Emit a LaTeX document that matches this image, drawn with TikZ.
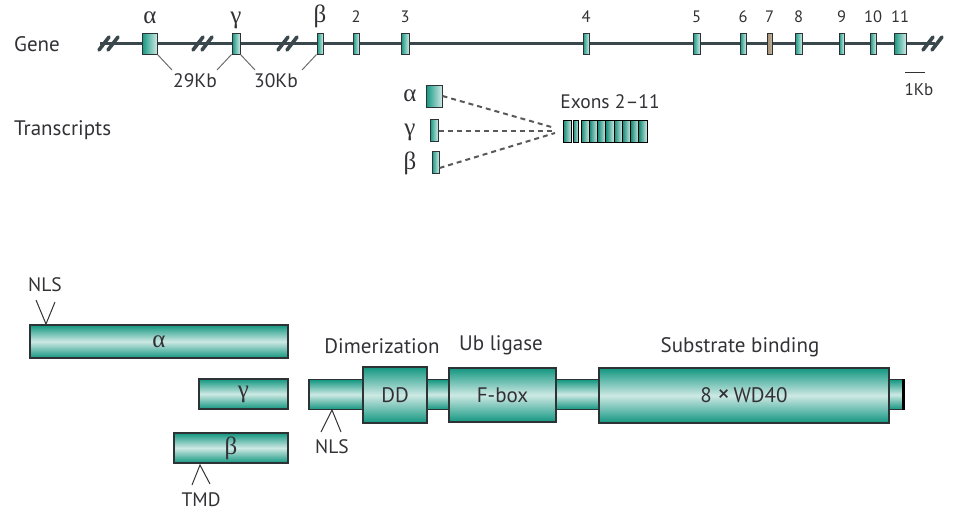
\documentclass[tikz,border=0pt]{standalone}
\usepackage{fontspec}
\setmainfont{PT Sans}
\newfontfamily\grk{Liberation Serif}
\definecolor{tealD}{RGB}{18,150,128}
\definecolor{tealL}{RGB}{205,233,228}
\definecolor{tanE}{RGB}{196,178,148}
\definecolor{edge}{RGB}{45,50,52}
\definecolor{gline}{RGB}{58,72,78}
\definecolor{txt}{RGB}{50,50,54}
\definecolor{conn}{RGB}{110,110,110}
\tikzset{
  lbl/.style={font=\fontsize{21}{21}\selectfont, text=txt, inner sep=0},
  mid/.style={font=\fontsize{19.5}{20}\selectfont, text=txt, inner sep=0},
  small/.style={font=\fontsize{16.5}{17}\selectfont, text=txt, inner sep=0},
  greek/.style={font=\grk\fontsize{25}{25}\selectfont, text=txt, inner sep=0},
  exon/.style={draw=edge, line width=1pt, left color=tealD, right color=tealL,
               inner sep=0, minimum height=21},
  texon/.style={exon, minimum height=22},
  subexon/.style={draw=black, line width=0.9pt, left color=tealD!90!black, right color=tealL,
               inner sep=0, minimum height=22},
  prot/.style={draw=edge, line width=1.3pt, top color=tealD, bottom color=tealD,
               middle color=tealL, inner sep=0, font=\fontsize{21}{21}\selectfont, text=txt},
  geneline/.style={draw=gline, line width=3pt},
  brk/.style={draw=gline, line width=3.6pt, line cap=round},
  conline/.style={draw=conn, line width=1pt},
  splice/.style={draw=gray!70!black, line width=2pt, dash pattern=on 5pt off 4pt},
  tick/.style={draw=txt, line width=1pt},
}
\begin{document}
\begin{tikzpicture}[x=1pt,y=-1pt]
\useasboundingbox (0,0) rectangle (957,514);

% ---------------- gene ----------------
\node[lbl, anchor=west] (gene) at (14,44) {Gene};
\coordinate (gs) at (100,43.5);
\coordinate (ge) at (935,43.5);
\draw[geneline] (gs) -- (ge);
% breaks in the gene line
\foreach \x in {104,113, 198,207, 283,292, 928,937}
  \draw[brk] (\x-5,50) -- (\x+5,37);

% exons
\node[exon, minimum width=15] (ea) at (149.5,43.5) {};
\node[exon, minimum width=8]  (eg) at (236,43.5) {};
\node[exon, minimum width=6]  (eb) at (320,43.5) {};
\node[exon, minimum width=6]  (e2) at (356,43.5) {};
\node[exon, minimum width=8]  (e3) at (405,43.5) {};
\node[exon, minimum width=6]  (e4) at (586,43.5) {};
\node[exon, minimum width=7]  (e5) at (696.5,43.5) {};
\node[exon, minimum width=6]  (e6) at (743,43.5) {};
\node[exon, minimum width=5, left color=tanE!80!black, right color=tanE] (e7) at (769.5,43.5) {};
\node[exon, minimum width=7]  (e8) at (798.5,43.5) {};
\node[exon, minimum width=5]  (e9) at (841.5,43.5) {};
\node[exon, minimum width=6]  (e10) at (873,43.5) {};
\node[exon, minimum width=12] (e11) at (900,43.5) {};

% exon labels
\node[greek] at (150,18) {α};
\node[greek] at (236,20) {γ};
\node[greek] at (320,16) {β};
\foreach \n/\x in {2/356,3/405,4/586,5/696.5,6/743,7/769.5,8/798.5,9/841.5,10/873,11/900}
  \node[small] at (\x,17) {\n};

% intron sizes
\node[mid] (k29) at (195,81) {29Kb};
\node[mid] (k30) at (276,81) {30Kb};
\coordinate (k29l) at (172,70);
\coordinate (k29r) at (217,70);
\coordinate (k30l) at (255,70);
\coordinate (k30r) at (302,70);
\draw[conline] (ea.south east) -- (k29l);
\draw[conline] (eg.south west) -- (k29r);
\draw[conline] (eg.south east) -- (k30l);
\draw[conline] (eb.south west) -- (k30r);

% scale bar
\coordinate (sb1) at (905,72);
\coordinate (sb2) at (925,72);
\draw[tick] (sb1) -- (sb2);
\node[small, font=\fontsize{17}{17}\selectfont] (kb) at (919,90) {1Kb};

% ---------------- transcripts ----------------
\node[lbl, anchor=west] (tr) at (14,130) {Transcripts};
\node[texon, minimum width=16] (ta) at (434,96) {};
\node[texon, minimum width=8]  (tg) at (434,130.5) {};
\node[texon, minimum width=7]  (tb) at (435.5,162) {};
\node[greek] at (410,96) {α};
\node[greek] at (410,132) {γ};
\node[greek] at (410,163) {β};

% exons 2-11 block
\node[subexon, minimum width=8.5] (x2) at (567.25,131) {};
\node[subexon, minimum width=5.5] (x3) at (575.75,131) {};
\foreach \i in {0,...,7}
  \node[subexon, minimum width=8.25] (x\i b) at (585.125+\i*8.25,131) {};
\node[mid] (exl) at (610,102) {Exons 2--11};

\coordinate (ca) at (555,128);
\coordinate (cg) at (555,130.5);
\coordinate (cb) at (555,133);
\draw[splice] (ta.east) -- (ca);
\draw[splice] (tg.east) -- (cg);
\draw[splice] ([yshift=-6]tb.east) -- (cb);

% ---------------- proteins ----------------
\node[prot, minimum width=258, minimum height=33] (pa) at (159,341.5) {\grk\fontsize{25}{25}\selectfont α};
\node[prot, minimum width=89,  minimum height=30] (pg) at (243.5,394) {\grk\fontsize{25}{25}\selectfont γ};
\node[prot, minimum width=114, minimum height=30] (pb) at (231,448) {\grk\fontsize{25}{25}\selectfont β};

% NLS on alpha
\node[mid] (nls1) at (45,285) {NLS};
\coordinate (n1) at (46,324);
\coordinate (n1l) at (36,300);
\coordinate (n1r) at (55,302);
\draw[tick] (n1l) -- (n1) -- (n1r);

% TMD on beta
\node[mid] (tmd) at (201,500) {TMD};
\coordinate (t1) at (200,465);
\coordinate (t1l) at (192,485);
\coordinate (t1r) at (210,484);
\draw[tick] (t1l) -- (t1) -- (t1r);

% full-length protein backbone
\node[prot, minimum width=594, minimum height=30] (bb) at (606,394.5) {};
\draw[draw=black, line width=2.6pt] (bb.north east) -- (bb.south east);
\node[prot, minimum width=64,  minimum height=56] (dd) at (395,395) {DD};
\node[prot, minimum width=107, minimum height=54] (fb) at (502.5,395) {F-box};
\node[prot, minimum width=290, minimum height=55] (wd) at (744,395.5) {8 {\fontsize{25}{25}\selectfont ×}\,WD40};

% domain titles
\node[lbl] (dim) at (382,346) {Dimerization};
\node[lbl] (ub)  at (501,345) {Ub ligase};
\node[lbl] (sub) at (740,347) {Substrate binding};

% NLS on backbone
\node[mid] (nls2) at (332,447) {NLS};
\coordinate (n2) at (332,410);
\coordinate (n2l) at (321,432);
\coordinate (n2r) at (341,432);
\draw[tick] (n2l) -- (n2) -- (n2r);
\end{tikzpicture}
\end{document}
